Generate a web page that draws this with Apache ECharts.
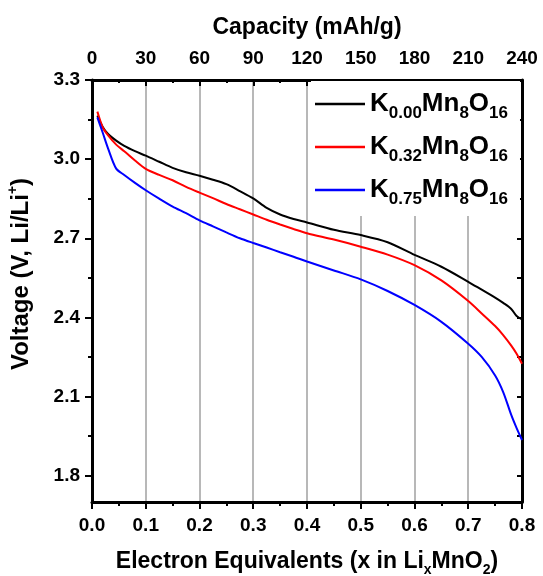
<!DOCTYPE html>
<html>
<head>
<meta charset="utf-8">
<script src="https://cdn.jsdelivr.net/npm/echarts@6/dist/echarts.min.js"></script>
<style>
  html, body { margin: 0; padding: 0; background: #fff; }
  #chart { width: 543px; height: 576px; }
</style>
</head>
<body>
<div id="chart"></div>
<script>
// Electron equivalents x (in LixMnO2) shared by all three discharge curves
const xValues = [0.01, 0.02, 0.03, 0.045, 0.06, 0.08, 0.1, 0.125, 0.15, 0.175, 0.2, 0.225, 0.25, 0.275, 0.3,
  0.325, 0.35, 0.375, 0.4, 0.45, 0.5, 0.55, 0.6, 0.65, 0.7, 0.725, 0.75, 0.765, 0.78, 0.79, 0.8];

// Cell voltage (V vs Li/Li+) for each potassium content
const voltsK000 = [3.165, 3.122, 3.095, 3.07, 3.05, 3.03, 3.013, 2.99, 2.967, 2.95, 2.937, 2.922, 2.905, 2.879, 2.851,
  2.815, 2.79, 2.773, 2.76, 2.732, 2.712, 2.685, 2.637, 2.592, 2.535, 2.505, 2.475, 2.455, 2.432, 2.405, 2.392];
const voltsK032 = [3.18, 3.12, 3.09, 3.055, 3.03, 2.995, 2.963, 2.94, 2.92, 2.895, 2.873, 2.852, 2.83, 2.81, 2.79,
  2.77, 2.752, 2.735, 2.719, 2.695, 2.668, 2.638, 2.598, 2.54, 2.462, 2.415, 2.367, 2.333, 2.293, 2.262, 2.224];
const voltsK075 = [3.158, 3.10, 3.04, 2.964, 2.94, 2.91, 2.882, 2.85, 2.82, 2.795, 2.768, 2.745, 2.722, 2.70, 2.682,
  2.665, 2.647, 2.63, 2.612, 2.578, 2.544, 2.50, 2.447, 2.383, 2.30, 2.25, 2.18, 2.117, 2.03, 1.98, 1.935];

// Potassium contents shown in the legend
const kContents = ['0.00', '0.32', '0.75'];
const seriesColors = ['#000000', '#ff0000', '#0000ff'];

// Voltage axis: labelled ticks and the unlabelled ticks between them
const yTickLabels = ['1.8', '2.1', '2.4', '2.7', '3.0', '3.3'];
const yMinorTicks = ['1.95', '2.25', '2.55', '2.85', '3.15'];
const yMin = 1.7, yMax = 3.3, yStep = 0.05;

// Capacity axis (top) and electron-equivalent axis (bottom)
const capMin = 0, capMax = 240, capStep = 30;
const xMin = 0, xMax = 0.8, xStep = 0.1;

const FONT = '"Liberation Sans", Arial, sans-serif';

// Category slots along the voltage axis so ticks can sit on 0.15 V steps from 1.8
const yCats = [];
for (let i = 0; Math.round((yMin + i * yStep) * 100) <= Math.round(yMax * 100); i++) {
  yCats.push(String(+(yMin + i * yStep).toFixed(2)));
}
const majorSet = new Set(yTickLabels.map(s => String(+s)));
const minorSet = new Set(yMinorTicks.map(s => String(+s)));
const allTickSet = new Set([...majorSet, ...minorSet]);

const seriesNames = kContents.map(k => 'K' + k + 'Mn8O16');

function pairs(ys) { return xValues.map((x, i) => [x, ys[i]]); }
const voltSets = [voltsK000, voltsK032, voltsK075];

const axisLineStyle = { show: true, lineStyle: { color: '#000', width: 3 } };

const chart = echarts.init(document.getElementById('chart'), null, { renderer: 'canvas' });
chart.setOption({
  animation: false,
  backgroundColor: '#fff',
  textStyle: { fontFamily: FONT, fontWeight: 'bold', color: '#000' },
  grid: { left: 92, right: 21, top: 80, bottom: 74, containLabel: false, outerBoundsMode: 'none' },
  legend: {
    data: seriesNames,
    orient: 'vertical',
    left: 311,
    top: 81,
    padding: [5, 12, 8, 4],
    itemGap: 7,
    itemWidth: 50,
    itemHeight: 2.5,
    icon: 'rect',
    selectedMode: false,
    backgroundColor: '#ffffff',
    formatter: name => {
      const k = name.slice(1, 5);
      return '{m|K}{s|' + k + '}{m|Mn}{s|8}{m|O}{s|16}';
    },
    textStyle: {
      fontFamily: FONT, fontWeight: 'bold', color: '#000', fontSize: 26, lineHeight: 36,
      rich: {
        m: { fontFamily: FONT, fontWeight: 'bold', fontSize: 26, lineHeight: 36, color: '#000' },
        s: { fontFamily: FONT, fontWeight: 'bold', fontSize: 17, lineHeight: 17, padding: [19, 0, 0, 0], color: '#000' }
      }
    }
  },
  xAxis: [
    {
      type: 'value', position: 'bottom', min: xMin, max: xMax, interval: xStep,
      name: 'Electron Equivalents (x in Li{s|x}MnO{s|2})',
      nameLocation: 'middle', nameGap: 45,
      nameTextStyle: {
        fontFamily: FONT, fontWeight: 'bold', fontSize: 23, lineHeight: 30, color: '#000',
        rich: { s: { fontFamily: FONT, fontWeight: 'bold', fontSize: 14, lineHeight: 14, padding: [16, 0, 0, 0], color: '#000' } }
      },
      axisLine: axisLineStyle,
      axisTick: { show: true, inside: false, length: 7, lineStyle: { color: '#000', width: 2 } },
      minorTick: { show: true, splitNumber: 2, length: 4, lineStyle: { color: '#000', width: 2 } },
      splitLine: { show: true, lineStyle: { color: '#a0a0a0', width: 1.5 } },
      axisLabel: { margin: 14, fontSize: 19, fontFamily: FONT, fontWeight: 'bold', color: '#000',
        formatter: v => v.toFixed(1) }
    },
    {
      type: 'value', position: 'top', min: capMin, max: capMax, interval: capStep,
      name: 'Capacity (mAh/g)', nameLocation: 'middle', nameGap: 41,
      nameTextStyle: { fontFamily: FONT, fontWeight: 'bold', fontSize: 23, color: '#000' },
      axisLine: axisLineStyle,
      axisTick: { show: true, inside: true, length: 6, lineStyle: { color: '#000', width: 2 } },
      minorTick: { show: true, splitNumber: 2, length: 3, lineStyle: { color: '#000', width: 2 } },
      splitLine: { show: false },
      axisLabel: { margin: 12, fontSize: 19, fontFamily: FONT, fontWeight: 'bold', color: '#000' }
    }
  ],
  yAxis: [
    // value axis that places the curves
    { type: 'value', min: yMin, max: yMax, show: false },
    // left axis: line, labels and long ticks
    {
      type: 'category', position: 'left', data: yCats, boundaryGap: false,
      name: 'Voltage (V, Li/Li{p|+})', nameLocation: 'middle', nameGap: 56, nameRotate: 90,
      nameTextStyle: {
        fontFamily: FONT, fontWeight: 'bold', fontSize: 24, lineHeight: 30, color: '#000',
        padding: [0, 0, 0, 34],
        rich: { p: { fontFamily: FONT, fontWeight: 'bold', fontSize: 14, lineHeight: 14, padding: [0, 0, 16, 0], color: '#000' } }
      },
      axisLine: axisLineStyle,
      axisTick: { show: true, inside: false, length: 7, interval: (i, v) => majorSet.has(v), lineStyle: { color: '#000', width: 2 } },
      axisLabel: { margin: 12, fontSize: 19, fontFamily: FONT, fontWeight: 'bold', color: '#000',
        interval: (i, v) => majorSet.has(v), formatter: v => (+v).toFixed(1) },
      splitLine: { show: false }
    },
    // left axis: short ticks between labels
    {
      type: 'category', position: 'left', data: yCats, boundaryGap: false,
      axisLine: { show: false },
      axisTick: { show: true, inside: false, length: 4, interval: (i, v) => minorSet.has(v), lineStyle: { color: '#000', width: 2 } },
      axisLabel: { show: false },
      splitLine: { show: false }
    },
    // right axis: inward ticks, no labels
    {
      type: 'category', position: 'right', data: yCats, boundaryGap: false,
      axisLine: axisLineStyle,
      axisTick: { show: true, inside: true, length: 5, interval: (i, v) => allTickSet.has(v), lineStyle: { color: '#000', width: 2 } },
      axisLabel: { show: false },
      splitLine: { show: false }
    }
  ],
  series: seriesNames.map((name, i) => ({
    name,
    type: 'line',
    xAxisIndex: 0,
    yAxisIndex: 0,
    data: pairs(voltSets[i]),
    showSymbol: false,
    symbol: 'none',
    smooth: 0.3,
    z: 3,
    color: seriesColors[i],
    lineStyle: { color: seriesColors[i], width: 2 }
  }))
});
</script>
</body>
</html>
